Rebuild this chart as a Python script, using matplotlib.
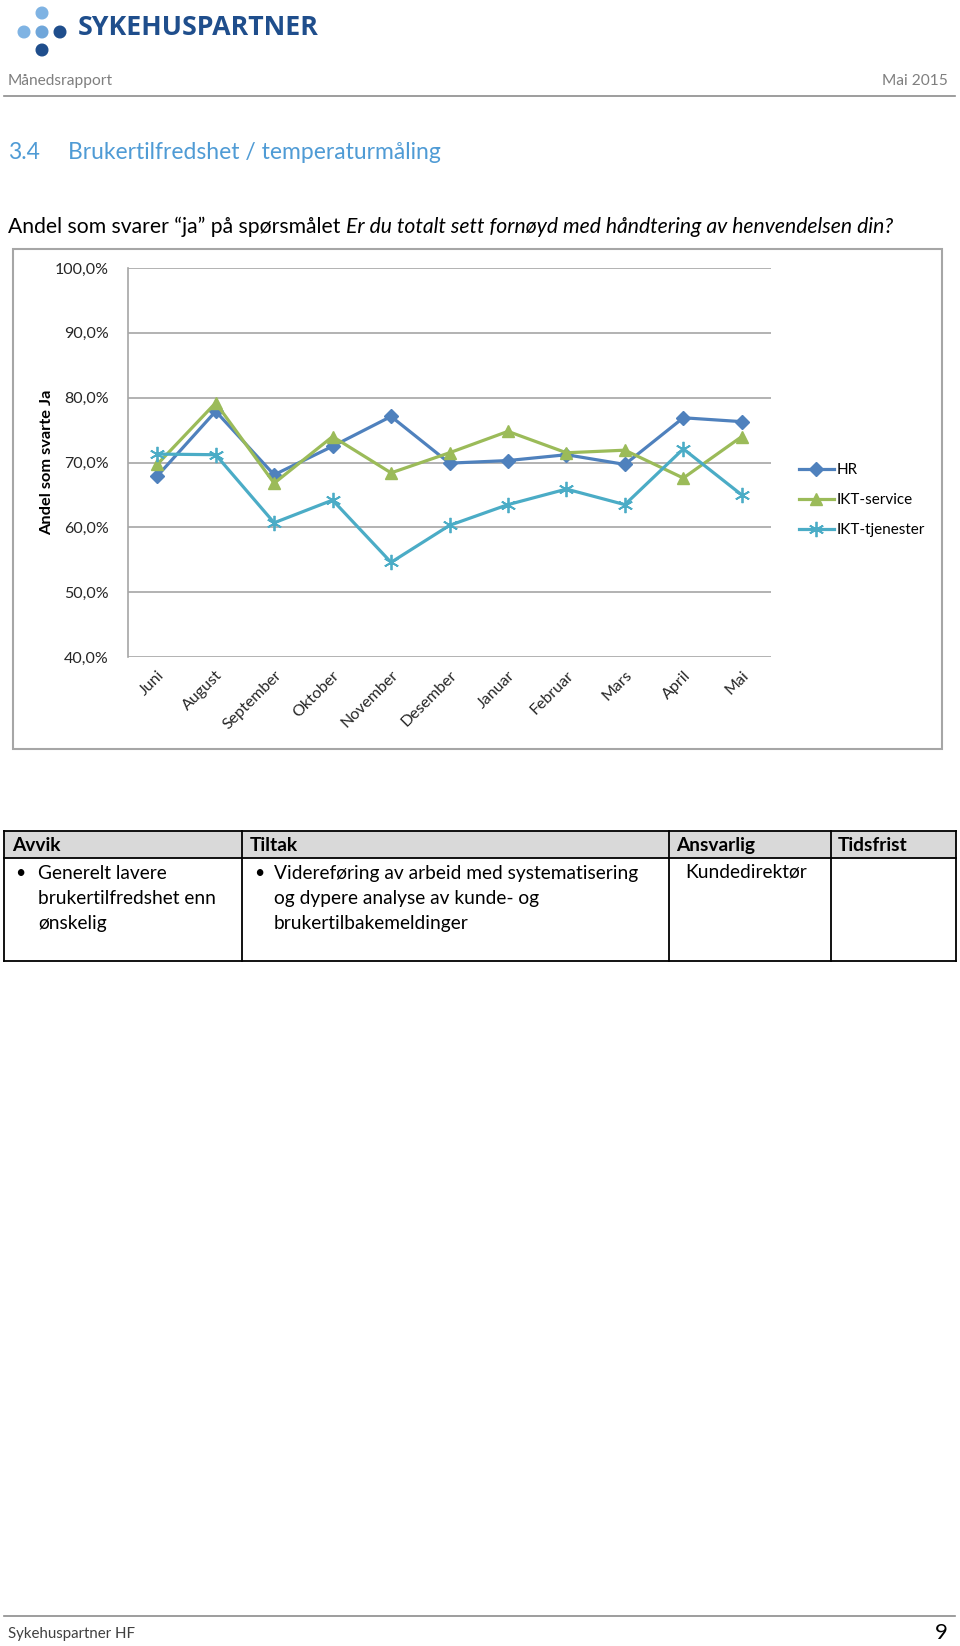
import matplotlib
matplotlib.use('Agg')
import matplotlib.pyplot as plt
from matplotlib.patches import Rectangle, Circle
from matplotlib.ticker import FuncFormatter

plt.rcParams['font.family'] = ['Lato', 'DejaVu Sans']

# chart data
months = ['Juni', 'August', 'September', 'Oktober', 'November', 'Desember',
          'Januar', 'Februar', 'Mars', 'April', 'Mai']
hr = [67.9, 77.9, 68.1, 72.5, 77.1, 69.9, 70.3, 71.2, 69.7, 76.9, 76.3]
ikt_service = [69.7, 79.2, 66.8, 74.0, 68.4, 71.5, 74.8, 71.5, 71.9, 67.6, 74.0]
ikt_tjenester = [71.3, 71.2, 60.7, 64.2, 54.6, 60.3, 63.5, 65.9, 63.5, 72.1, 65.0]
y_ticks = [40, 50, 60, 70, 80, 90, 100]

# table text
table_headers = ['Avvik', 'Tiltak', 'Ansvarlig', 'Tidsfrist']
avvik_lines = ['Generelt lavere', 'brukertilfredshet enn', 'ønskelig']
tiltak_lines = ['Videreføring av arbeid med systematisering',
                'og dypere analyse av kunde- og', 'brukertilbakemeldinger']
ansvarlig = 'Kundedirektør'

W, H = 960, 1646
fig = plt.figure(figsize=(W / 100, H / 100), dpi=100)
bg = fig.add_axes([0, 0, 1, 1])
bg.set_xlim(0, W)
bg.set_ylim(H, 0)
bg.axis('off')

# logo
dark = '#1F4E8C'
light = '#7FB3E3'
for (cx, cy, c) in [(42, 13, light), (24, 32, light), (42, 32, '#6FA6DA'),
                    (60, 32, dark), (42, 50, dark)]:
    bg.add_patch(Circle((cx, cy), 5.8, color=c))
bg.text(78, 28, 'SYKEHUSPARTNER', fontsize=19.3, fontweight='bold', color=dark,
        va='center', ha='left', family=['Open Sans', 'DejaVu Sans'])

# page header
gray = '#7F7F7F'
bg.text(8, 81, 'Månedsrapport', fontsize=11.2, color=gray, va='center')
bg.text(948, 81, 'Mai 2015', fontsize=11.2, color=gray, va='center', ha='right')
bg.plot([4, 955], [96, 96], color='#8C8C8C', lw=1.2)

# section heading
head_col = '#4F9BD5'
bg.text(8, 152, '3.4', fontsize=16.5, color=head_col, va='center')
bg.text(68, 152, 'Brukertilfredshet / temperaturmåling', fontsize=16.5,
        color=head_col, va='center')

# question line: normal part, then italic part right after it
t1 = bg.text(8, 227, 'Andel som svarer \u201cja\u201d på spørsmålet ', fontsize=15.2,
             va='center')
fig.canvas.draw()
bb = t1.get_window_extent(renderer=fig.canvas.get_renderer())
x_it = bg.transData.inverted().transform((bb.x1, 0))[0]
bg.text(x_it, 227, 'Er du totalt sett fornøyd med håndtering av henvendelsen din?',
        fontsize=15.2, style='italic', va='center', ha='left')

# chart frame
bg.add_patch(Rectangle((13, 249), 929, 500, fill=False, edgecolor='#A6A6A6', lw=1.5))

ax = fig.add_axes([128 / W, 1 - 657 / H, 643 / W, 389 / H])
x = range(len(months))
ax.plot(x, hr, color='#4F81BD', lw=2.3, marker='D', ms=7, label='HR')
ax.plot(x, ikt_service, color='#9BBB59', lw=2.3, marker='^', ms=9, label='IKT-service')
ax.plot(x, ikt_tjenester, color='#4BACC6', lw=2.3, marker=(6, 2, 0), ms=11, mew=1.3,
        label='IKT-tjenester')
ax.set_xlim(-0.5, len(months) - 0.5)
ax.set_ylim(40, 100)
ax.set_yticks(y_ticks)
ax.yaxis.set_major_formatter(FuncFormatter(lambda v, p: f'{v:.1f}%'.replace('.', ',')))
ax.set_xticks(list(x))
ax.set_xticklabels(months, rotation=45, ha='right', rotation_mode='anchor')
ax.tick_params(length=0, labelsize=11.5, colors='#262626', pad=8)
ax.tick_params(axis='y', pad=14)
ax.grid(axis='y', color='#A6A6A6', lw=1.2)
ax.set_axisbelow(True)
for s in ['top', 'right', 'bottom']:
    ax.spines[s].set_visible(False)
ax.spines['left'].set_color('#A6A6A6')
ax.spines['left'].set_linewidth(1.2)
ax.set_ylabel('Andel som svarte Ja', fontsize=11.8, fontweight='bold', labelpad=0)
ax.legend(loc='center left', bbox_to_anchor=(785 / W, 1 - 500 / H),
          bbox_transform=fig.transFigure, frameon=False, fontsize=11,
          handlelength=2.3, handletextpad=0.15, labelspacing=1.05)

# table
tc = 'black'
bg.add_patch(Rectangle((4, 831), 952, 27, facecolor='#D9D9D9', edgecolor='none'))
for yy in [831, 858, 961]:
    bg.plot([4, 956], [yy, yy], color=tc, lw=1.3)
for xx in [4, 242, 669, 831, 956]:
    bg.plot([xx, xx], [831, 961], color=tc, lw=1.3)
for xx, h in zip([12, 250, 676, 838], table_headers):
    bg.text(xx, 845, h, fontsize=13.8, fontweight='bold', va='center')
bg.text(15, 873, '•', fontsize=12.5, va='center')
for i, line in enumerate(avvik_lines):
    bg.text(38, 873 + i * 25, line, fontsize=13.8, va='center')
bg.text(254, 873, '•', fontsize=12.5, va='center')
for i, line in enumerate(tiltak_lines):
    bg.text(274, 873 + i * 25, line, fontsize=13.8, va='center')
bg.text(685, 872, ansvarlig, fontsize=13.8, va='center')

# footer
bg.plot([4, 955], [1616, 1616], color='#8C8C8C', lw=1.2)
bg.text(8, 1634, 'Sykehuspartner HF', fontsize=10.8, color='#404040', va='center')
bg.text(948, 1633, '9', fontsize=16, va='center', ha='right')

fig.savefig('out.png', dpi=100)
